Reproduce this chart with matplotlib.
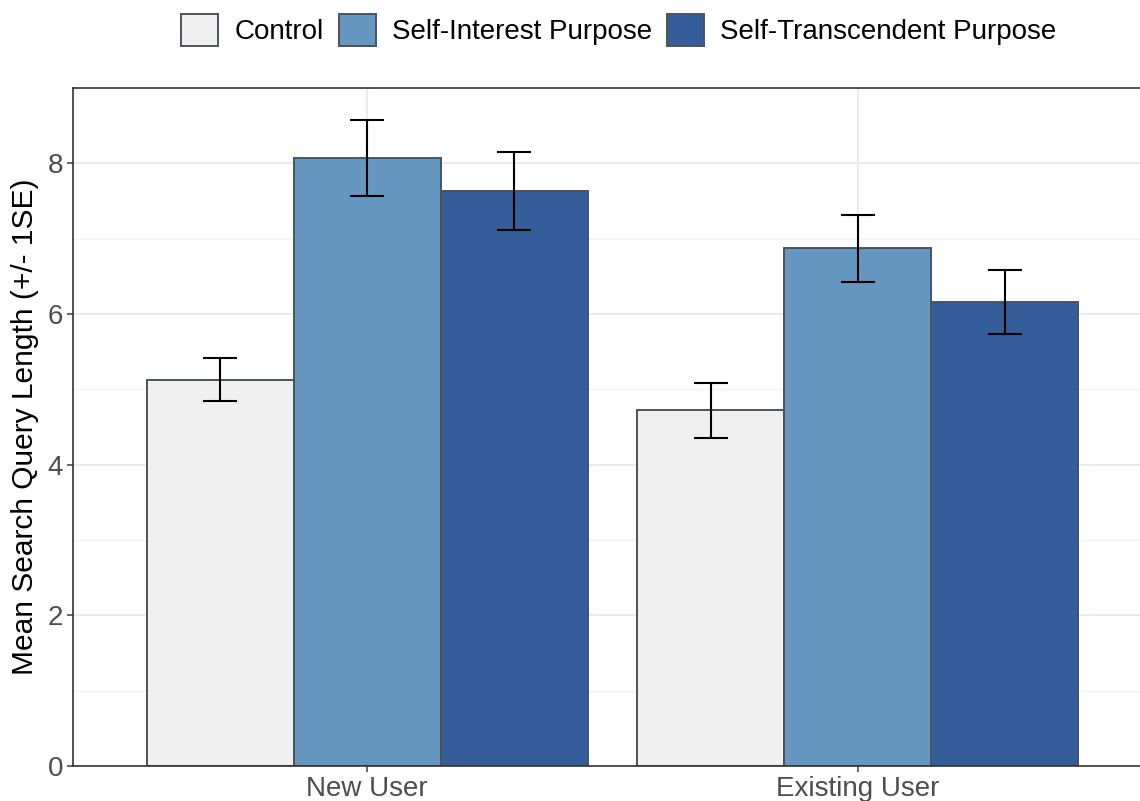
import numpy as np
import matplotlib.pyplot as plt
from matplotlib.patches import Patch

plt.rcParams['font.family'] = ['Liberation Sans', 'DejaVu Sans']

grupos = ['New User', 'Existing User']
condicoes = ['Control', 'Self-Interest Purpose', 'Self-Transcendent Purpose']
medias = {
    'Control': [5.13, 4.72],
    'Self-Interest Purpose': [8.07, 6.87],
    'Self-Transcendent Purpose': [7.63, 6.16],
}
erros = {
    'Control': [0.29, 0.36],
    'Self-Interest Purpose': [0.50, 0.45],
    'Self-Transcendent Purpose': [0.52, 0.42],
}
cores = ['#F0F0F0', '#6597C1', '#345D9A']
borda = '#4B535B'

fig = plt.figure(figsize=(11.4, 8.01), dpi=100)
ax = fig.add_axes([73/1140, 35/801, 1079/1140, 678/801])

x = np.arange(1, len(grupos) + 1)
largura = 0.3
for i, (cond, cor) in enumerate(zip(condicoes, cores)):
    pos = x + (i - 1) * largura
    ax.bar(pos, medias[cond], width=largura, color=cor, edgecolor=borda,
           linewidth=1.4, zorder=2)
    ax.errorbar(pos, medias[cond], yerr=erros[cond], fmt='none', ecolor='black',
                elinewidth=1.5, capsize=12, capthick=1.5, zorder=3)

ax.set_xlim(0.4, 2.6)
ax.set_ylim(0, 9)
ax.set_xticks(x)
ax.set_xticklabels(grupos)
ax.set_yticks([0, 2, 4, 6, 8])
ax.set_yticks([1, 3, 5, 7], minor=True)
ax.grid(True, which='major', color='#EBEBEB', linewidth=1.5, zorder=0)
ax.grid(True, which='minor', axis='y', color='#F3F3F3', linewidth=1.0, zorder=0)
ax.set_axisbelow(True)
ax.tick_params(axis='both', which='major', labelsize=20, colors='#4D4D4D',
               labelcolor='#4D4D4D', length=4, width=1.2, pad=3)
ax.tick_params(axis='y', which='minor', length=0)
for s in ax.spines.values():
    s.set_color('#333333')
    s.set_linewidth(1.2)
ax.set_ylabel('Mean Search Query Length (+/- 1SE)', fontsize=21.5, labelpad=6)

handles = [Patch(facecolor=c, edgecolor=borda, linewidth=1.4) for c in cores]
fig.legend(handles, condicoes, loc='center', bbox_to_anchor=(619/1140, 1 - 30/801),
           ncol=3, frameon=False, fontsize=20, handlelength=1.33, handleheight=1.45,
           handletextpad=0.58, columnspacing=0.55)

plt.savefig('out.png', dpi=100)
